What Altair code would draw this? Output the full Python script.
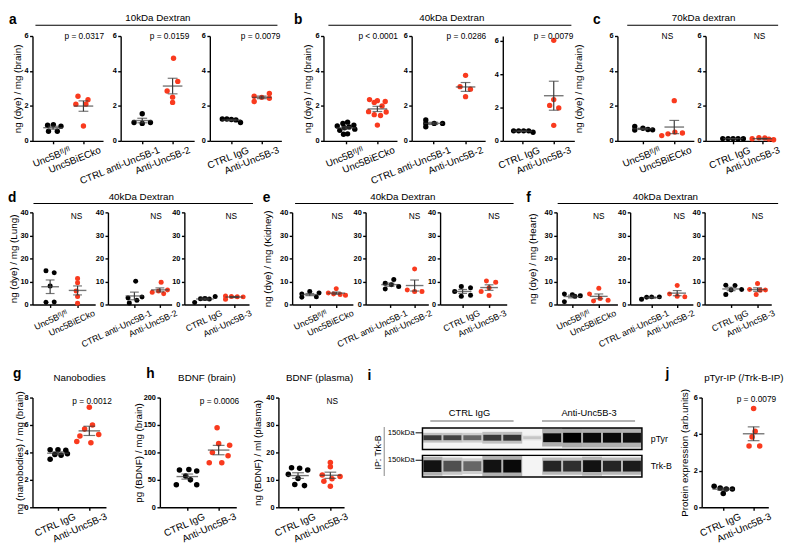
import altair as alt
import numpy as np
import pandas as pd

FONT = "Liberation Sans"
RED = "#f93a1e"
BLK = "#000000"
BAR = "#3a3a3a"

FLFL = "Unc5B\u1da0\u02e1/\u1da0\u02e1"
KO = "Unc5BiECko"
CTRL1 = "CTRL anti-Unc5B-1"
ANTI2 = "Anti-Unc5B-2"
IGG = "CTRL IgG"
ANTI3 = "Anti-Unc5B-3"

# ---------------- data ----------------
# row 1: brain, ng(dye)/mg
a1_c = [0.89, 0.93, 0.55, 0.55, 0.84]; a1_cj = [-0.18, 0.01, -0.15, 0.14, 0.26]
a1_t = [2.55, 2.35, 2.1, 2.1, 0.85];  a1_tj = [-0.18, 0.15, -0.25, 0.08, 0.0]
a2_c = [1.55, 1.05, 1.0, 1.05];       a2_cj = [0.0, -0.27, 0.0, 0.27]
a2_t = [4.73, 3.4, 2.85, 2.5, 2.2];   a2_tj = [0.03, 0.17, -0.18, 0.0, 0.0]
a3_c = [1.25, 1.25, 1.22, 1.2, 1.05]; a3_cj = [-0.3, -0.15, 0.0, 0.15, 0.3]
a3_t = [2.55, 2.49, 2.71, 2.25, 2.44]; a3_tj = [-0.25, 0.0, 0.25, -0.25, 0.25]
b1_c = [1.07, 1.0, 0.9, 0.85, 0.8, 0.75, 0.67, 0.6, 0.4, 0.38]
b1_cj = [0.05, -0.1, 0.25, -0.28, 0.1, -0.05, 0.28, -0.2, 0.05, -0.08]
b1_t = [2.36, 2.3, 2.25, 2.2, 2.0, 1.67, 1.65, 1.5, 1.45, 0.9]
b1_tj = [-0.25, 0.0, 0.25, -0.1, 0.15, -0.28, 0.28, -0.1, 0.1, 0.0]
b2_c = [1.2, 1.0, 1.0, 1.0, 0.8];     b2_cj = [-0.23, -0.23, 0.03, 0.29, -0.23]
b2_t = [3.75, 3.1, 2.96, 2.53];       b2_tj = [0.0, -0.17, 0.15, 0.0]
b3_c = [0.6, 0.6, 0.6, 0.6, 0.52];    b3_cj = [-0.28, -0.12, 0.04, 0.2, 0.34]
b3_t = [6.04, 2.48, 2.13, 1.98, 0.93]; b3_tj = [0.0, 0.0, -0.13, 0.16, 0.0]
c1_c = [0.82, 0.62, 0.72, 0.65, 0.63]; c1_cj = [-0.26, -0.26, 0.0, 0.16, 0.31]
c1_t = [2.3, 0.3, 0.4, 0.5, 0.45];    c1_tj = [0.0, -0.4, -0.2, 0.02, 0.26]
c2_c = [0.13, 0.13, 0.13, 0.12, 0.12]; c2_cj = [-0.35, -0.17, 0.0, 0.17, 0.35]
c2_t = [0.12, 0.18, 0.16, 0.1, 0.06]; c2_tj = [-0.35, -0.12, 0.08, 0.22, 0.38]

# row 2: 40kDa dextran in lung / kidney / heart
d1_c = [14.6, 13.8, 8.0, 1.0, 1.1];   d1_cj = [-0.15, 0.15, 0.0, -0.15, 0.15]
d1_t = [11.3, 9.4, 5.8, 3.5, 0.5];    d1_tj = [0.0, 0.0, -0.05, 0.0, 0.0]
d2_c = [10.1, 3.2, 2.8, 1.8, 0.6];    d2_cj = [0.05, 0.3, -0.25, 0.1, -0.2]
d2_t = [9.6, 6.3, 5.8, 5.3, 4.7];     d2_tj = [0.05, 0.3, -0.05, -0.3, 0.15]
d3_c = [3.5, 2.6, 2.5, 2.4, 0.9];     d3_cj = [0.35, 0.0, -0.15, 0.15, -0.35]
d3_t = [3.7, 3.5, 3.4, 3.3, 2.3];     d3_tj = [-0.3, -0.1, 0.1, 0.3, -0.3]
e1_c = [5.6, 5.0, 4.5, 3.3, 3.1];     e1_cj = [0.0, 0.35, -0.3, 0.25, -0.3]
e1_t = [6.8, 5.0, 4.5, 4.3, 4.0];     e1_tj = [0.0, -0.3, -0.1, 0.15, 0.35]
e2_c = [10.8, 9.2, 8.6, 7.8, 6.7];    e2_cj = [0.15, -0.2, 0.05, 0.35, -0.2]
e2_t = [15.4, 6.3, 5.6, 5.6];         e2_tj = [0.0, -0.3, 0.0, 0.3]
e3_c = [7.8, 7.3, 5.6, 3.6, 4.0];     e3_cj = [-0.05, 0.3, -0.3, -0.05, 0.3]
e3_t = [10.2, 9.7, 7.3, 5.6, 3.9];    e3_tj = [-0.1, 0.25, 0.0, -0.3, 0.0]
f1_c = [4.5, 4.2, 3.8, 3.6, 1.2];     f1_cj = [-0.3, 0.0, 0.3, 0.1, -0.3]
f1_t = [7.1, 4.6, 2.6, 1.8, 1.5];     f1_tj = [0.0, -0.35, 0.05, 0.35, -0.2]
f2_c = [3.3, 3.3, 3.1, 2.3];          f2_cj = [0.0, 0.3, -0.2, -0.4]
f2_t = [8.2, 4.5, 3.6, 3.4];          f2_tj = [0.0, -0.3, 0.0, 0.3]
f3_c = [8.4, 8.2, 6.5, 6.3, 4.3];     f3_cj = [-0.2, 0.15, 0.4, 0.0, -0.2]
f3_t = [9.1, 6.5, 6.3, 6.2, 4.3];     f3_tj = [0.0, -0.3, 0.3, 0.1, -0.05]

# row 3
g_c = [4.2, 4.2, 4.15, 3.9, 3.85, 3.8, 3.5]; g_cj = [-0.25, 0.0, 0.25, 0.3, -0.1, 0.1, -0.25]
g_t = [7.3, 6.0, 5.7, 5.3, 5.2, 4.8, 4.7];   g_tj = [0.0, 0.1, -0.15, 0.3, -0.3, -0.4, 0.05]
h1_c = [68, 69, 66, 57, 50, 41, 41];         h1_cj = [-0.25, 0.05, 0.3, -0.05, 0.1, -0.35, 0.3]
h1_t = [145, 116, 113, 100, 94, 81, 81];     h1_tj = [-0.05, 0.0, 0.35, -0.2, 0.3, -0.3, 0.1]
h2_c = [14.4, 14.2, 13.6, 12.0, 10.5, 8.3, 7.9]; h2_cj = [-0.2, 0.05, 0.3, -0.3, 0.0, -0.1, 0.2]
h2_t = [16.3, 14.8, 11.8, 11.2, 10.4, 9.5, 7.7]; h2_tj = [0.0, 0.0, -0.25, 0.3, 0.05, -0.2, 0.0]
j_c = [1.15, 1.05, 1.0, 1.0, 0.75];          j_cj = [-0.3, -0.1, 0.1, 0.3, 0.0]
j_t = [5.4, 4.15, 3.85, 3.35, 3.35];         j_tj = [0.0, 0.05, -0.05, -0.15, 0.2]

# western blot (panel i): lane intensities and band thickness
lanes = [1, 2, 3, 4, 5, 6, 7, 8, 9, 10, 11]
ptyr_int = [0.7, 0.65, 0.5, 0.7, 0.72, 0.15, 0.95, 1.0, 0.95, 0.95, 0.92]
ptyr_thk = [5, 5, 5, 6, 6, 3, 9, 10, 10, 10, 10]
trkb_int = [0.9, 0.6, 0.5, 0.9, 0.95, 0.0, 0.8, 0.75, 0.9, 0.8, 0.85]
trkb_thk = [12, 11, 10, 13, 13, 0, 11, 11, 12, 11, 11]

ONE = pd.DataFrame({"k": [0]})

R1 = dict(h=107, lab=10, ang=-22, mw=20, cw=10, ps=30)
R2 = dict(h=94, lab=9, ang=-25, mw=18, cw=9, ps=26)
R3 = dict(h=112, lab=10, ang=-24, mw=22, cw=12, ps=32)
LOFF = 15


def txt(s, x, y, size=8.5, weight="normal", align="center", baseline="middle", angle=None, color="black"):
    kw = dict(text=s, fontSize=size, fontWeight=weight, align=align, baseline=baseline, font=FONT, color=color)
    if angle is not None:
        kw["angle"] = angle
    return alt.Chart(ONE).mark_text(**kw).encode(x=alt.value(x), y=alt.value(y))


def hline(x1, x2, y, color="black", w=1.2):
    return alt.Chart(ONE).mark_rule(color=color, strokeWidth=w).encode(
        x=alt.value(x1), x2=alt.value(x2), y=alt.value(y))


def vline(x, y1, y2, color="black", w=1.2):
    return alt.Chart(ONE).mark_rule(color=color, strokeWidth=w).encode(
        x=alt.value(x), y=alt.value(y1), y2=alt.value(y2))


def letter(s, x, y):
    return txt(s, x, y, size=14, weight="bold", align="left", baseline="alphabetic")


def header(s, cx, ty, x1, x2, ly):
    return [txt(s, cx, ty, size=10), hline(x1, x2, ly, w=1.1)]


def pval(s, x, y, align="right"):
    return txt(s, x, y, size=8.5, align=align)


def dots(labels, ctrl, cj, trt, tj, ymax, yticks, width, off, step, row,
         ytitle=None, tpad=2, extras=()):
    h = row["h"]
    lo = 1 - off / step
    hi = lo + width / step
    pts = pd.DataFrame({
        "x": [1 + j for j in cj] + [2 + j for j in tj],
        "y": list(ctrl) + list(trt),
        "g": ["c"] * len(ctrl) + ["t"] * len(trt),
    })
    recs = []
    for i, vals in enumerate((ctrl, trt)):
        v = np.asarray(vals, float)
        m = v.mean()
        s = v.std(ddof=1) / np.sqrt(len(v))
        recs.append({"x": i + 1, "m": m, "lo": m - s, "hi": m + s})
    st = pd.DataFrame(recs)
    lab = "datum.value == 1 ? '%s' : '%s'" % labels
    xs = alt.Scale(domain=[lo, hi], nice=False, zero=False)
    ys = alt.Scale(domain=[0, ymax], nice=False, zero=True)
    xax = alt.Axis(values=[1, 2], labelExpr=lab, title=None, grid=False, labelAngle=row["ang"],
                   labelFontSize=row["lab"], tickSize=3, labelPadding=1, labelOffset=LOFF)
    ykw = dict(values=yticks, grid=False, tickSize=3, labelPadding=1.5)
    if ytitle:
        ykw.update(title=ytitle, titlePadding=tpad)
    else:
        ykw.update(title=None)
    yax = alt.Axis(**ykw)

    def X(f):
        return alt.X(f, scale=xs, axis=xax)

    def Y(f):
        return alt.Y(f, scale=ys, axis=yax)

    pt = alt.Chart(pts).mark_circle(size=row["ps"], opacity=1).encode(
        x=X("x:Q"), y=Y("y:Q"),
        color=alt.Color("g:N", scale=alt.Scale(domain=["c", "t"], range=[BLK, RED]), legend=None))
    base = alt.Chart(st)
    sem = base.mark_rule(color=BAR, strokeWidth=1.2).encode(x=X("x:Q"), y=Y("lo:Q"), y2="hi:Q")
    mean = base.mark_tick(orient="horizontal", size=row["mw"], thickness=1.4, color=BAR).encode(
        x=X("x:Q"), y=Y("m:Q"))
    cap1 = base.mark_tick(orient="horizontal", size=row["cw"], thickness=1.2, color=BAR).encode(
        x=X("x:Q"), y=Y("lo:Q"))
    cap2 = base.mark_tick(orient="horizontal", size=row["cw"], thickness=1.2, color=BAR).encode(
        x=X("x:Q"), y=Y("hi:Q"))
    return alt.layer(pt, sem, mean, cap1, cap2, *extras).properties(width=width, height=h)


def spacer(w, h=1):
    return alt.Chart(ONE).mark_point(opacity=0, size=1).encode(
        x=alt.X("k:Q", axis=None), y=alt.Y("k:Q", axis=None)).properties(width=w, height=h)


def build_row(items, xs, ws):
    out = []
    for i, c in enumerate(items):
        if i > 0:
            out.append(spacer(xs[i] - (xs[i - 1] + ws[i - 1])))
        out.append(c)
    return alt.hconcat(*out, spacing=0, bounds="flush")


def blot(width):
    H = 81
    xs = alt.Scale(domain=[0.5, 11.5], nice=False, zero=False)
    ys = alt.Scale(domain=[0, H], nice=False, zero=False)
    box = pd.DataFrame({"x1": [0.5, 0.5], "x2": [11.5, 11.5], "y1": [28, 0], "y2": [50, 22]})
    core, halo = [], []
    for ln, it, th in zip(lanes, ptyr_int, ptyr_thk):
        core.append({"l1": ln - 0.45, "l2": ln + 0.45, "y1": 40 - th / 2, "y2": 40 + th / 2, "op": it})
        halo.append({"l1": ln - 0.5, "l2": ln + 0.5, "y1": 40 - th, "y2": 40 + th, "op": it * 0.3})
    for ln, it, th in zip(lanes, trkb_int, trkb_thk):
        core.append({"l1": ln - 0.45, "l2": ln + 0.45, "y1": 11 - th / 2, "y2": 11 + th / 2, "op": it})
        halo.append({"l1": ln - 0.5, "l2": ln + 0.5, "y1": 11 - th * 0.8, "y2": 11 + th * 0.8, "op": it * 0.3})
    core = pd.DataFrame(core)
    halo = pd.DataFrame(halo)
    bg = alt.Chart(box).mark_rect(color="#f4f4f4").encode(
        x=alt.X("x1:Q", scale=xs, axis=None), x2="x2:Q",
        y=alt.Y("y1:Q", scale=ys, axis=None), y2="y2:Q")
    hl = alt.Chart(halo).mark_rect(color="black").encode(
        x=alt.X("l1:Q", scale=xs, axis=None), x2="l2:Q",
        y=alt.Y("y1:Q", scale=ys, axis=None), y2="y2:Q",
        opacity=alt.Opacity("op:Q", scale=None, legend=None))
    cr = alt.Chart(core).mark_rect(color="black").encode(
        x=alt.X("l1:Q", scale=xs, axis=None), x2="l2:Q",
        y=alt.Y("y1:Q", scale=ys, axis=None), y2="y2:Q",
        opacity=alt.Opacity("op:Q", scale=None, legend=None))
    ol = alt.Chart(box).mark_rect(fillOpacity=0, stroke="black", strokeWidth=1.5).encode(
        x=alt.X("x1:Q", scale=xs, axis=None), x2="x2:Q",
        y=alt.Y("y1:Q", scale=ys, axis=None), y2="y2:Q")
    ann = [
        letter("i", -56, -18),
        txt(IGG, 48, 16, size=9.5), hline(8, 93, 24, color="#9a9a9a", w=1.6),
        txt(ANTI3, 170, 16, size=9.5), hline(122, 217, 24, color="#9a9a9a", w=1.6),
        txt("pTyr", 233, 42, size=9, align="left"),
        txt("Trk-B", 233, 70, size=9, align="left"),
        txt("150kDa", -8, 36, size=8, align="right"), hline(-7, 0, 36, w=1),
        txt("150kDa", -8, 64, size=8, align="right"), hline(-7, 0, 64, w=1),
        txt("IP: Trk-B", -45, 56, size=9, angle=270),
        vline(-39, 30, 80, color="#9a9a9a", w=1.2),
    ]
    return alt.layer(bg, hl, cr, ol, *ann).properties(width=width, height=H)


T_BRAIN = "ng (dye) / mg (brain)"
Y6 = [0, 2, 4, 6]
Y40 = [0, 10, 20, 30, 40]
L1, L2, L3 = -12, -11, -20

# ---------------- row 1 ----------------
r1x = [25, 115, 206, 322, 412, 505, 622, 712]
r1w = [72, 75, 73, 75, 75, 73, 78, 70]
row1_items = [
    dots((FLFL, KO), a1_c, a1_cj, a1_t, a1_tj, 6, Y6, r1w[0], 21, 31, R1, T_BRAIN, 2,
         [letter("a", -24, L1), *header("10kDa Dextran", 128, -18, 3, 250, -11), pval("p = 0.0317", 73, 0)]),
    dots((CTRL1, ANTI2), a2_c, a2_cj, a2_t, a2_tj, 6, Y6, r1w[1], 22, 31, R1,
         extras=[pval("p = 0.0159", 70, 0)]),
    dots((IGG, ANTI3), a3_c, a3_cj, a3_t, a3_tj, 6, Y6, r1w[2], 22, 31, R1,
         extras=[pval("p = 0.0079", 72, 0)]),
    dots((FLFL, KO), b1_c, b1_cj, b1_t, b1_tj, 6, Y6, r1w[3], 23, 32, R1, T_BRAIN, 3,
         [letter("b", -30, L1), *header("40kDa Dextran", 131, -18, 5, 253, -11), pval("p < 0.0001", 76, 0)]),
    dots((CTRL1, ANTI2), b2_c, b2_cj, b2_t, b2_tj, 6, Y6, r1w[4], 22, 33, R1,
         extras=[pval("p = 0.0286", 76, 0)]),
    dots((IGG, ANTI3), b3_c, b3_cj, b3_t, b3_tj, 6.3, Y6, r1w[5], 20, 32, R1,
         extras=[pval("p = 0.0079", 72, 0)]),
    dots((FLFL, KO), c1_c, c1_cj, c1_t, c1_tj, 6, Y6, r1w[6], 26, 32, R1, T_BRAIN, 26,
         [letter("c", -25, L1), *header("70kDa dextran", 88, -18, 10, 164, -11), pval("NS", 51, 0, "center")]),
    dots((IGG, ANTI3), c2_c, c2_cj, c2_t, c2_tj, 6, Y6, r1w[7], 28, 30, R1,
         extras=[pval("NS", 55, 0, "center")]),
]
row1 = build_row(row1_items, r1x, r1w)

# ---------------- row 2 ----------------
r2x = [27, 104, 182, 292, 367, 443, 562, 637, 713]
r2w = [64, 65, 66, 62, 64, 68, 62, 64, 68]
NSY = 4
row2_items = [
    dots((FLFL, KO), d1_c, d1_cj, d1_t, d1_tj, 40, Y40, r2w[0], 18, 28, R2, "ng (dye) / mg (Lung)", 1.5,
         [letter("d", -25, L2), *header("40kDa Dextran", 111, -16, 1, 225, -9), pval("NS", 45, NSY, "center")]),
    dots((CTRL1, ANTI2), d2_c, d2_cj, d2_t, d2_tj, 40, Y40, r2w[1], 27, 26, R2,
         extras=[pval("NS", 49, NSY, "center")]),
    dots((IGG, ANTI3), d3_c, d3_cj, d3_t, d3_tj, 40, Y40, r2w[2], 21, 30, R2,
         extras=[pval("NS", 48, NSY, "center")]),
    dots((FLFL, KO), e1_c, e1_cj, e1_t, e1_tj, 40, Y40, r2w[3], 18, 27, R2, "ng (dye) / mg (Kidney)", 7,
         [letter("e", -30, L2), *header("40kDa Dextran", 113, -16, 3, 226, -9), pval("NS", 46, NSY, "center")]),
    dots((CTRL1, ANTI2), e2_c, e2_cj, e2_t, e2_tj, 40, Y40, r2w[4], 25, 25, R2,
         extras=[pval("NS", 50, NSY, "center")]),
    dots((IGG, ANTI3), e3_c, e3_cj, e3_t, e3_tj, 40, Y40, r2w[5], 23, 27, R2,
         extras=[pval("NS", 55, NSY, "center")]),
    dots((FLFL, KO), f1_c, f1_cj, f1_t, f1_tj, 40, Y40, r2w[6], 16, 27, R2, "ng (dye) / mg (Heart)", 7,
         [letter("f", -31, L2), *header("40kDa Dextran", 111, -16, 1, 226, -9), pval("NS", 43, NSY, "center")]),
    dots((CTRL1, ANTI2), f2_c, f2_cj, f2_t, f2_tj, 40, Y40, r2w[7], 22, 26, R2,
         extras=[pval("NS", 50, NSY, "center")]),
    dots((IGG, ANTI3), f3_c, f3_cj, f3_t, f3_tj, 40, Y40, r2w[8], 27, 27, R2,
         extras=[pval("NS", 54, NSY, "center")]),
]
row2 = build_row(row2_items, r2x, r2w)

# ---------------- row 3 ----------------
r3x = [22, 152, 273, 420, 705]
r3w = [75, 78, 67, 224, 68]
row3_items = [
    dots((IGG, ANTI3), g_c, g_cj, g_t, g_tj, 8, [0, 2, 4, 6, 8], r3w[0], 26, 32, R3,
         "ng (nanobodies) / mg (brain)", 0,
         [letter("g", -20, L3), txt("Nanobodies", 48, -20, size=10), pval("p = 0.0012", 81, 4)]),
    dots((IGG, ANTI3), h1_c, h1_cj, h1_t, h1_tj, 200, [0, 50, 100, 150, 200], r3w[1], 28, 32, R3,
         "pg (BDNF) / mg  (brain)", 0,
         [letter("h", -14, L3), txt("BDNF (brain)", 48, -20, size=10), pval("p = 0.0006", 81, 4)]),
    dots((IGG, ANTI3), h2_c, h2_cj, h2_t, h2_tj, 40, Y40, r3w[2], 20, 33, R3,
         "ng (BDNF) / ml  (plasma)", 3,
         [txt("BDNF (plasma)", 42, -20, size=10), pval("NS", 55, 4, "center")]),
    blot(r3w[3]),
    dots((IGG, ANTI3), j_c, j_cj, j_t, j_tj, 6, Y6, r3w[4], 22, 31, R3,
         "Protein expression (arb.units)", 4,
         [letter("j", -37, L3), txt("pTyr-IP (/Trk-B-IP)", 43, -20, size=10), pval("p = 0.0079", 76, 2)]),
]
row3 = build_row(row3_items, r3x, r3w)

chart = alt.vconcat(row1, spacer(10, 5), row2, spacer(10, 18), row3, spacing=0).properties(
    padding=0, background="white"
).configure_view(strokeWidth=0).configure_axis(
    domainColor="black", domainWidth=1.4, tickColor="black", tickWidth=1.4,
    labelFont=FONT, titleFont=FONT, labelColor="black", titleColor="black",
    titleFontWeight="normal", titleFontSize=10
).configure_axisY(labelFontSize=7.5, labelFontWeight="bold").configure_axisX(labelFontWeight="normal")

chart.save("out.html", embed_options={"renderer": "svg", "actions": False})
